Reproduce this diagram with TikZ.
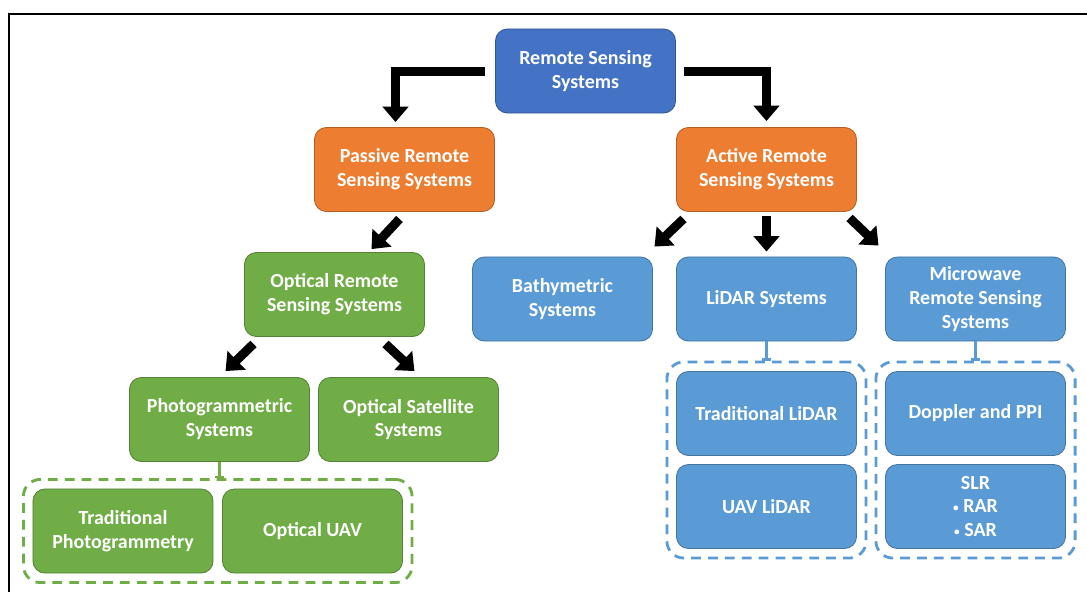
\documentclass[tikz,border=0pt]{standalone}
\usepackage{fontspec}
\setmainfont{Carlito}
\usetikzlibrary{arrows.meta,calc,fit}

\definecolor{rootblue}{HTML}{4472C4}
\definecolor{passorange}{HTML}{ED7D31}
\definecolor{optgreen}{HTML}{70AD47}
\definecolor{actblue}{HTML}{5B9BD5}

\newcommand{\smallbullet}{\raisebox{1.2pt}{\fontsize{8}{8}\selectfont\textbullet}}

\begin{document}
\begin{tikzpicture}[x=0.025cm, y=-0.025cm,
    sysbox/.style={draw=#1!75!black, fill=#1, line width=0.6pt, rounded corners=8.5pt,
        minimum width=4.5cm, minimum height=2.1cm, text=white, align=center,
        font=\fontsize{14.2}{17}\selectfont\bfseries},
    bigarrow/.style={line width=6.4pt, -{Triangle[width=18pt,length=11pt]}},
    dashbox/.style={draw=#1, line width=2pt, dash pattern=on 7pt off 5pt,
        rounded corners=12pt, inner sep=6.5pt},
    link/.style={draw=#1, line width=1.5pt, -{Bar[width=7pt]}}]
    \useasboundingbox (0,0) rectangle (1087,592);

    % frame
    \draw[line width=2pt] (9,592) -- (9,14) -- (1087,14);

    % top levels
    \node[sysbox=rootblue] (root) at (585.5,71) {Remote Sensing\\Systems};
    \node[sysbox=passorange] (passive) at (404.5,169.5) {Passive Remote\\Sensing Systems};
    \node[sysbox=passorange] (active) at (766.5,169.5) {Active Remote\\Sensing Systems};

    % passive side
    \node[sysbox=optgreen] (optical) at (334.5,294.5) {Optical Remote\\Sensing Systems};
    \node[sysbox=optgreen] (photo) at (219.5,419.5) {Photogrammetric\\Systems};
    \node[sysbox=optgreen] (satellite) at (408.5,419.5) {Optical Satellite\\Systems};
    \node[sysbox=optgreen] (tradphoto) at (123,531) {Traditional\\Photogrammetry};
    \node[sysbox=optgreen] (optuav) at (312.5,531) {Optical UAV};

    % active side
    \node[sysbox=actblue] (bathy) at (562.5,299) {Bathymetric\\Systems};
    \node[sysbox=actblue] (lidar) at (766.5,299) {LiDAR Systems};
    \node[sysbox=actblue] (micro) at (975.5,299) {Microwave\\Remote Sensing\\Systems};
    \node[sysbox=actblue] (tradlidar) at (766.5,413.5) {Traditional LiDAR};
    \node[sysbox=actblue] (uavlidar) at (766.5,506.5) {UAV LiDAR};
    \node[sysbox=actblue] (doppler) at (975.5,413.5) {Doppler and PPI};
    \node[sysbox=actblue] (slr) at (975.5,506.5) {SLR\\\smallbullet{} RAR\\\smallbullet{} SAR};

    % dashed groups
    \node[dashbox=optgreen, fit=(tradphoto)(optuav)] (photogroup) {};
    \node[dashbox=actblue, fit=(tradlidar)(uavlidar)] (lidargroup) {};
    \node[dashbox=actblue, fit=(doppler)(slr)] (microgroup) {};
    \draw[link=optgreen] (photo.south) -- (photogroup.north -| photo.south);
    \draw[link=actblue] (lidar.south) -- (lidargroup.north);
    \draw[link=actblue] (micro.south) -- (microgroup.north);

    % arrows
    \draw[bigarrow] ($(root.west)+(-10,0)$) -| ($(passive.north)+(-9,-5)$);
    \draw[bigarrow] ($(root.east)+(8,0)$) -| ($(active.north)+(0,-6)$);
    \draw[bigarrow] ($(passive.south)+(-5,7)$) -- ($(optical.north)+(37,-3)$);
    \draw[bigarrow] ($(optical.south)+(-81,7)$) -- ($(photo.north)+(6,-6)$);
    \draw[bigarrow] ($(optical.south)+(51,7)$) -- ($(satellite.north)+(6,-6)$);
    \draw[bigarrow] ($(active.south)+(-83,7)$) -- ($(bathy.north)+(92,-10)$);
    \draw[bigarrow] ($(active.south)+(0,4)$) -- ($(lidar.north)+(0,-5)$);
    \draw[bigarrow] ($(active.south)+(83,6)$) -- ($(micro.north)+(-97,-11)$);
\end{tikzpicture}
\end{document}
